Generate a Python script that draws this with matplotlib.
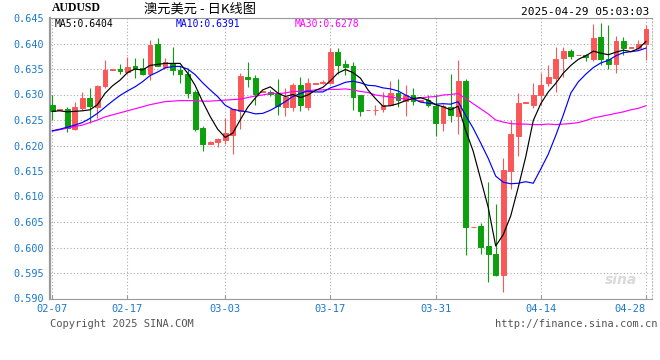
import matplotlib
matplotlib.use("Agg")
import matplotlib.pyplot as plt
import numpy as np
import pandas as pd

# daily AUDUSD candles, one per calendar day (one Sunday is missing in the feed)
dates = pd.date_range("2025-02-07", "2025-04-28").drop(pd.Timestamp("2025-02-23"))

opens = [0.6280, 0.6269, 0.6272, 0.6233, 0.6273, 0.6294, 0.6276, 0.6316, 0.6349, 0.6350,
         0.6345, 0.6356, 0.6351, 0.6340, 0.6399, 0.6354, 0.6361, 0.6348, 0.6341, 0.6305,
         0.6234, 0.6203, 0.6207, 0.6211, 0.6221, 0.6268, 0.6334, 0.6332, 0.6304, 0.6305,
         0.6303, 0.6276, 0.6276, 0.6319, 0.6276, 0.6321, 0.6322, 0.6322, 0.6384, 0.6360,
         0.6356, 0.6299, 0.6269, 0.6269, 0.6271, 0.6280, 0.6302, 0.6288, 0.6299, 0.6288,
         0.6289, 0.6278, 0.6244, 0.6276, 0.6258, 0.6326, 0.6040, 0.6042, 0.6002, 0.5987,
         0.5947, 0.6150, 0.6219, 0.6284, 0.6279, 0.6299, 0.6322, 0.6333, 0.6371, 0.6385,
         0.6377, 0.6377, 0.6369, 0.6413, 0.6369, 0.6359, 0.6405, 0.6392, 0.6392, 0.6400]
highs = [0.6300, 0.6271, 0.6276, 0.6286, 0.6305, 0.6312, 0.6319, 0.6367, 0.6350, 0.6359,
         0.6373, 0.6371, 0.6371, 0.6406, 0.6410, 0.6371, 0.6393, 0.6356, 0.6352, 0.6309,
         0.6238, 0.6208, 0.6214, 0.6253, 0.6272, 0.6343, 0.6364, 0.6339, 0.6306, 0.6308,
         0.6330, 0.6312, 0.6322, 0.6335, 0.6332, 0.6323, 0.6328, 0.6392, 0.6392, 0.6367,
         0.6364, 0.6300, 0.6270, 0.6280, 0.6304, 0.6327, 0.6330, 0.6318, 0.6312, 0.6289,
         0.6300, 0.6301, 0.6282, 0.6341, 0.6367, 0.6331, 0.6041, 0.6049, 0.6128, 0.6086,
         0.6175, 0.6250, 0.6302, 0.6285, 0.6322, 0.6343, 0.6358, 0.6393, 0.6393, 0.6390,
         0.6378, 0.6379, 0.6439, 0.6441, 0.6436, 0.6415, 0.6413, 0.6393, 0.6407, 0.6436]
lows = [0.6250, 0.6269, 0.6227, 0.6231, 0.6270, 0.6245, 0.6254, 0.6313, 0.6349, 0.6341,
        0.6341, 0.6333, 0.6338, 0.6328, 0.6356, 0.6351, 0.6338, 0.6322, 0.6294, 0.6229,
        0.6189, 0.6203, 0.6198, 0.6203, 0.6184, 0.6232, 0.6315, 0.6279, 0.6304, 0.6298,
        0.6259, 0.6257, 0.6268, 0.6268, 0.6270, 0.6321, 0.6321, 0.6321, 0.6341, 0.6338,
        0.6270, 0.6257, 0.6269, 0.6260, 0.6266, 0.6279, 0.6276, 0.6257, 0.6279, 0.6288,
        0.6276, 0.6218, 0.6229, 0.6247, 0.6223, 0.5985, 0.6040, 0.5987, 0.5932, 0.5945,
        0.5913, 0.6115, 0.6179, 0.6284, 0.6274, 0.6279, 0.6316, 0.6305, 0.6335, 0.6370,
        0.6377, 0.6365, 0.6366, 0.6358, 0.6350, 0.6343, 0.6377, 0.6392, 0.6390, 0.6367]
closes = [0.6268, 0.6271, 0.6234, 0.6276, 0.6293, 0.6278, 0.6317, 0.6348, 0.6350, 0.6346,
          0.6354, 0.6350, 0.6340, 0.6397, 0.6356, 0.6363, 0.6348, 0.6341, 0.6303, 0.6233,
          0.6203, 0.6207, 0.6213, 0.6224, 0.6271, 0.6337, 0.6330, 0.6301, 0.6306, 0.6301,
          0.6277, 0.6295, 0.6319, 0.6280, 0.6322, 0.6322, 0.6325, 0.6384, 0.6358, 0.6354,
          0.6296, 0.6268, 0.6270, 0.6270, 0.6279, 0.6302, 0.6290, 0.6299, 0.6288, 0.6289,
          0.6279, 0.6244, 0.6278, 0.6260, 0.6326, 0.6040, 0.6041, 0.6001, 0.5987, 0.5947,
          0.6151, 0.6223, 0.6284, 0.6285, 0.6300, 0.6319, 0.6335, 0.6369, 0.6385, 0.6376,
          0.6378, 0.6373, 0.6411, 0.6369, 0.6359, 0.6405, 0.6392, 0.6393, 0.6400, 0.6429]

ma5 = [0.6267, 0.6268, 0.6266, 0.6267, 0.6268, 0.6270, 0.6280, 0.6302, 0.6317, 0.6328,
       0.6343, 0.6350, 0.6348, 0.6357, 0.6359, 0.6361, 0.6361, 0.6361, 0.6342, 0.6318,
       0.6286, 0.6257, 0.6232, 0.6216, 0.6224, 0.6250, 0.6275, 0.6293, 0.6309, 0.6315,
       0.6303, 0.6296, 0.6300, 0.6294, 0.6299, 0.6308, 0.6314, 0.6327, 0.6342, 0.6349,
       0.6343, 0.6332, 0.6309, 0.6292, 0.6277, 0.6278, 0.6282, 0.6288, 0.6292, 0.6294,
       0.6289, 0.6280, 0.6276, 0.6270, 0.6277, 0.6230, 0.6189, 0.6134, 0.6079, 0.6003,
       0.6025, 0.6062, 0.6118, 0.6178, 0.6249, 0.6282, 0.6305, 0.6322, 0.6342, 0.6357,
       0.6369, 0.6376, 0.6385, 0.6381, 0.6378, 0.6383, 0.6387, 0.6384, 0.6390, 0.6404]
ma10 = [0.6229, 0.6232, 0.6236, 0.6240, 0.6245, 0.6253, 0.6263, 0.6275, 0.6287, 0.6298,
        0.6307, 0.6315, 0.6325, 0.6337, 0.6344, 0.6352, 0.6355, 0.6355, 0.6350, 0.6339,
        0.6323, 0.6309, 0.6296, 0.6279, 0.6271, 0.6268, 0.6266, 0.6262, 0.6263, 0.6269,
        0.6277, 0.6286, 0.6296, 0.6302, 0.6307, 0.6305, 0.6305, 0.6313, 0.6318, 0.6324,
        0.6326, 0.6323, 0.6318, 0.6317, 0.6313, 0.6311, 0.6307, 0.6299, 0.6292, 0.6285,
        0.6283, 0.6281, 0.6282, 0.6281, 0.6286, 0.6259, 0.6234, 0.6205, 0.6175, 0.6140,
        0.6128, 0.6125, 0.6126, 0.6129, 0.6126, 0.6154, 0.6183, 0.6220, 0.6260, 0.6303,
        0.6325, 0.6340, 0.6353, 0.6362, 0.6367, 0.6376, 0.6382, 0.6384, 0.6386, 0.6391]
ma30 = [0.6228, 0.6231, 0.6234, 0.6237, 0.6240, 0.6245, 0.6250, 0.6256, 0.6260, 0.6264,
        0.6268, 0.6272, 0.6276, 0.6280, 0.6283, 0.6286, 0.6287, 0.6288, 0.6288, 0.6288,
        0.6287, 0.6287, 0.6288, 0.6289, 0.6290, 0.6291, 0.6294, 0.6297, 0.6299, 0.6302,
        0.6302, 0.6303, 0.6306, 0.6306, 0.6307, 0.6309, 0.6309, 0.6310, 0.6310, 0.6311,
        0.6309, 0.6306, 0.6304, 0.6299, 0.6297, 0.6295, 0.6293, 0.6291, 0.6291, 0.6293,
        0.6295, 0.6296, 0.6299, 0.6300, 0.6302, 0.6292, 0.6282, 0.6272, 0.6262, 0.6250,
        0.6246, 0.6243, 0.6242, 0.6242, 0.6241, 0.6241, 0.6242, 0.6241, 0.6242, 0.6243,
        0.6245, 0.6249, 0.6254, 0.6257, 0.6260, 0.6263, 0.6266, 0.6270, 0.6273, 0.6278]

tick_labels = ["02-07", "02-17", "03-03", "03-17", "03-31", "04-14", "04-28"]
y_ticks = [0.590, 0.595, 0.600, 0.605, 0.610, 0.615, 0.620, 0.625, 0.630, 0.635, 0.640, 0.645]

UP = "#fa5858"
DOWN = "#0ca00c"
AXIS_BLUE = "#1a78cc"
MONO = "DejaVu Sans Mono"

fig = plt.figure(figsize=(6.6, 3.6), dpi=100)
ax = fig.add_axes([50 / 660, 1 - 298.5 / 360, 602 / 660, 280.5 / 360])

x = np.arange(len(dates))
o = np.array(opens)
c = np.array(closes)
colors = [UP if cc >= oo else DOWN for oo, cc in zip(o, c)]

ax.vlines(x, lows, highs, colors=colors, linewidth=0.8, zorder=2)
ax.bar(x, np.abs(c - o), bottom=np.minimum(o, c), width=0.64,
       color=colors, edgecolor=colors, linewidth=0.7, zorder=3)

ax.plot(x, ma30, color="#ff00ff", linewidth=0.85, zorder=4)
ax.plot(x, ma10, color="#0000ff", linewidth=0.85, zorder=5)
ax.plot(x, ma5, color="black", linewidth=0.85, zorder=6)

ax.set_xlim(-0.31, len(dates) - 0.2)
ax.set_ylim(0.590, 0.645)

labels_all = [d.strftime("%m-%d") for d in dates]
tick_pos = [labels_all.index(t) for t in tick_labels]
ax.set_xticks(tick_pos)
ax.set_xticklabels(tick_labels, fontfamily=MONO, fontsize=7.5, color=AXIS_BLUE)
ax.xaxis.get_ticklabels()[-1].set_horizontalalignment("right")
ax.xaxis.get_ticklabels()[-1].set_x(tick_pos[-1] + 0.8)
ax.tick_params(axis="x", direction="in", length=3, color="#999999", pad=4)

ax.set_yticks(y_ticks)
ax.set_yticklabels([f"{v:.3f}" for v in y_ticks], fontfamily=MONO, fontsize=7.3,
                   color=AXIS_BLUE)
ax.tick_params(axis="y", length=0, pad=4)

ax.grid(True, color="#aaaaaa", linestyle=(0, (1, 2)), linewidth=0.8)
ax.set_axisbelow(True)
for side in ["left", "bottom", "top"]:
    ax.spines[side].set_color("#999999")
ax.spines["left"].set_linewidth(1.6)
ax.spines["right"].set_color("#bbbbbb")
ax.spines["right"].set_linestyle((0, (1, 2)))

# MA legend row inside the plot
ax.text(0.008, 0.978, "MA5:0.6404", transform=ax.transAxes, fontfamily=MONO,
        fontsize=7, color="black", va="center")
ax.text(0.208, 0.978, "MA10:0.6391", transform=ax.transAxes, fontfamily=MONO,
        fontsize=7, color="#0000ff", va="center")
ax.text(0.407, 0.978, "MA30:0.6278", transform=ax.transAxes, fontfamily=MONO,
        fontsize=7, color="#ff00ff", va="center")

ax.text(0.975, 0.04, "sina", transform=ax.transAxes, fontsize=10, fontstyle="italic",
        fontweight="bold", color="#d9d9d9", ha="right", va="bottom", zorder=1)

fig.text(52 / 660, 1 - 8 / 360, "AUDUSD", fontfamily="Liberation Serif",
         fontweight="bold", fontsize=8.5, va="center", ha="left")
fig.text(200 / 660, 1 - 9 / 360, "澳元美元 - 日K线图",
         fontfamily=["Noto Sans CJK SC", "DejaVu Sans"], fontsize=9.5,
         va="center", ha="center")
fig.text(649 / 660, 1 - 12 / 360, "2025-04-29 05:03:03", fontfamily=MONO,
         fontsize=8, va="center", ha="right")
fig.text(50 / 660, 1 - 324 / 360, "Copyright 2025 SINA.COM", fontfamily=MONO,
         fontsize=7.5, color="#555555", va="center", ha="left")
fig.text(658 / 660, 1 - 324 / 360, "http://finance.sina.com.cn", fontfamily=MONO,
         fontsize=7.5, color="#555555", va="center", ha="right")

fig.savefig("out.png", dpi=100)
